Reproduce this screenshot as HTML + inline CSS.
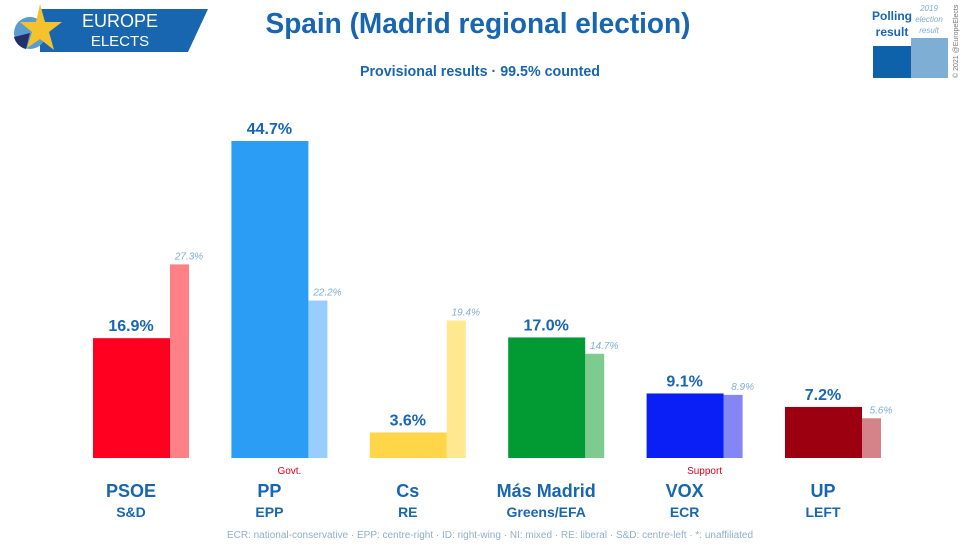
<!DOCTYPE html>
<html><head><meta charset="utf-8">
<style>
body{margin:0;background:#fff;font-family:"Liberation Sans",sans-serif;}
#c{position:relative;width:973px;height:549px;overflow:hidden;background:#fff}
</style></head><body>
<div id="c">
<svg width="973" height="549">
  <g>
    <polygon points="40,9 208,9 188,52 40,52" fill="#1866b0"/>
    <circle cx="30" cy="33" r="16" fill="#5a9bd0"/>
    <path d="M30,33 L14,37 A16,16 0 0 0 26,49 Z" fill="#22306a"/>
    <polygon points="40,4 45,22 62,22 49,32 54,50 40,39 27,48 32,32 20,22 36,22" fill="#f5c22e"/>
    <text x="120" y="27" fill="#fff" font-size="18" text-anchor="middle">EUROPE</text>
    <text x="120" y="46" fill="#fff" font-size="15" text-anchor="middle">ELECTS</text>
  </g>
  <text x="478" y="33" fill="#1866b0" font-size="29" font-weight="bold" text-anchor="middle" textLength="425" lengthAdjust="spacingAndGlyphs">Spain (Madrid regional election)</text>
  <text x="480" y="76" fill="#1866b0" font-size="15" font-weight="bold" text-anchor="middle" textLength="240" lengthAdjust="spacingAndGlyphs">Provisional results · 99.5% counted</text>
  <g>
    <rect x="873" y="46" width="38" height="32" fill="#0d62aa"/>
    <rect x="911" y="38" width="37" height="40" fill="#7faed5"/>
    <text x="892" y="20" fill="#1866b0" font-size="12" font-weight="bold" text-anchor="middle">Polling</text>
    <text x="892" y="36" fill="#1866b0" font-size="12" font-weight="bold" text-anchor="middle">result</text>
    <text x="929" y="11" fill="#7faed5" font-size="8" font-style="italic" text-anchor="middle">2019</text>
    <text x="929" y="22" fill="#7faed5" font-size="8" font-style="italic" text-anchor="middle">election</text>
    <text x="929" y="33" fill="#7faed5" font-size="8" font-style="italic" text-anchor="middle">result</text>
    <text x="958" y="78" fill="#777" font-size="7" transform="rotate(-90 958 78)">© 2021 @EuropeElects</text>
  </g>
  <g id="bars"></g>
  <text x="490" y="538" fill="#8fb0cc" font-size="10" text-anchor="middle">ECR: national-conservative · EPP: centre-right · ID: right-wing · NI: mixed · RE: liberal · S&amp;D: centre-left · *: unaffiliated</text>
</svg>
</div>
<script>
const parties=["PSOE","PP","Cs","Más Madrid","VOX","UP"];
const groups=["S&D","EPP","RE","Greens/EFA","ECR","LEFT"];
const results=[16.9,44.7,3.6,17.0,9.1,7.2];
const prev2019=[27.3,22.2,19.4,14.7,8.9,5.6];
const notes=["","Govt.","","","Support",""];
const colors=["#ff0020","#2b9df5","#ffd54a","#019a33","#0a1ff5","#9c0010"];
const lightColors=["#ff8087","#99cdfb","#ffe88f","#7ecb8f","#8486f6","#d58388"];
const NS="http://www.w3.org/2000/svg";
const g=document.getElementById("bars");
const base=458, pxPer=317/44.7;
const y=v=>base-v*pxPer;
const x0=i=>93+i*138.4;
function mk(t,a,txt){const e=document.createElementNS(NS,t);for(const k in a)e.setAttribute(k,a[k]);if(txt!==undefined)e.textContent=txt;g.appendChild(e);return e;}
parties.forEach((p,i)=>{
  const x=x0(i);
  let r=mk("rect",{x:x+77,y:y(prev2019[i]),width:19,height:base-y(prev2019[i]),fill:lightColors[i]});
  
  
  let m=mk("rect",{x:x,y:y(results[i]),width:77,height:base-y(results[i]),fill:colors[i]});
  
  
  let t=mk("text",{x:x+38,y:y(results[i])-7,fill:"#1866b0","font-size":16,"font-weight":"bold","text-anchor":"middle"},results[i].toFixed(1)+"%");
  
  
  let t2=mk("text",{x:x+96,y:y(prev2019[i])-5,fill:"#7faed5","font-size":10,"font-style":"italic","text-anchor":"middle"},prev2019[i].toFixed(1)+"%");
  
  
  let n=mk("text",{x:x+38,y:497,fill:"#1866b0","font-size":18,"font-weight":"bold","text-anchor":"middle"},p);
  
  
  let gr=mk("text",{x:x+38,y:517,fill:"#1866b0","font-size":14,"font-weight":"bold","text-anchor":"middle"},groups[i]);
  
  
  if(notes[i]){
    let no=mk("text",{x:x+58,y:474,fill:"#e0001a","font-size":10,"text-anchor":"middle"},notes[i]);
    
    
  }
});
</script>
</body></html>
